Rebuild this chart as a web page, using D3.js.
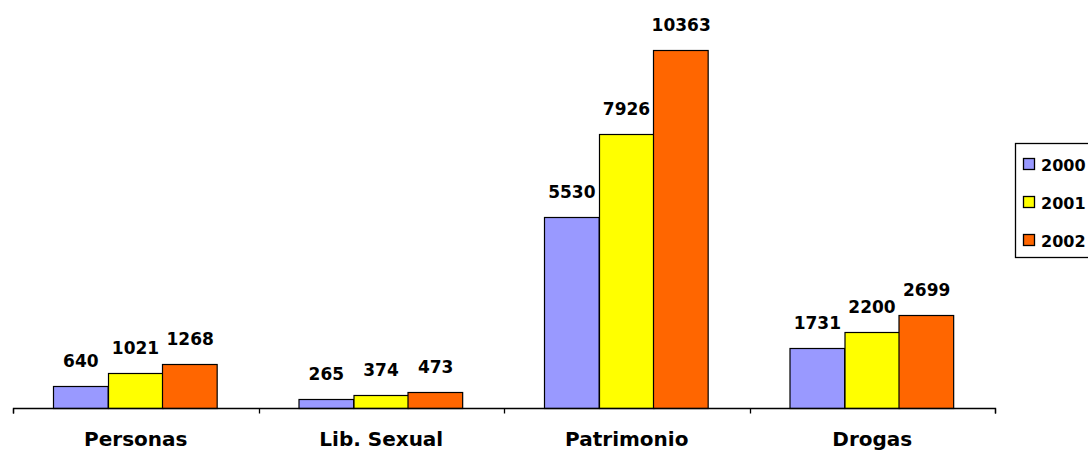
<!DOCTYPE html>
<html>
<head>
<meta charset="utf-8">
<script src="https://cdn.jsdelivr.net/npm/d3@7"></script>
<style>
  html, body { margin: 0; padding: 0; background: #fff; }
  svg { display: block; }
  text { font-family: "DejaVu Sans", Verdana, sans-serif; font-weight: bold; fill: #000; }
</style>
</head>
<body>
<svg id="chart" width="1088" height="450"></svg>
<script>
const categories = ["Personas", "Lib. Sexual", "Patrimonio", "Drogas"];
const series = ["2000", "2001", "2002"];
const values2000 = [640, 265, 5530, 1731];
const values2001 = [1021, 374, 7926, 2200];
const values2002 = [1268, 473, 10363, 2699];
const colors = ["#9999FF", "#FFFF00", "#FF6600"];

const seriesValues = [values2000, values2001, values2002];
const svg = d3.select("#chart");

const baseY = 408;
const x0 = d3.scaleBand().domain(categories).range([13, 995]).padding(0);
const bw = x0.bandwidth();
const x1 = d3.scaleBand().domain(series).range([40, 204]).padding(0);
const y = d3.scaleLinear().domain([0, d3.max(values2002)]).range([baseY, 50]);
const color = d3.scaleOrdinal().domain(series).range(colors);

// bars
const groups = svg.append("g").selectAll("g")
  .data(categories)
  .join("g")
  .attr("transform", d => `translate(${x0(d)},0)`);

groups.selectAll("rect")
  .data((c, i) => series.map((s, j) => ({ s, v: seriesValues[j][i] })))
  .join("rect")
  .attr("x", d => Math.round(x1(d.s)) + 0.5)
  .attr("y", d => Math.round(y(d.v)) + 0.5)
  .attr("width", x1.bandwidth())
  .attr("height", d => baseY - Math.round(y(d.v)))
  .attr("fill", d => color(d.s))
  .attr("stroke", "#000")
  .attr("stroke-width", 1.2);

groups.selectAll("text.val")
  .data((c, i) => series.map((s, j) => ({ s, v: seriesValues[j][i] })))
  .join("text")
  .attr("class", "val")
  .attr("x", d => x1(d.s) + x1.bandwidth() / 2 + 0.5)
  .attr("y", d => y(d.v) - 19)
  .attr("text-anchor", "middle")
  .attr("font-size", 17)
  .text(d => d.v);

// axis
const axis = d3.axisBottom(x0).tickSize(5).tickFormat("");
const axisG = svg.append("g")
  .attr("transform", `translate(0.5,${baseY + 0.5})`)
  .call(axis);
axisG.select(".domain").attr("d", `M13,5V0H995V5`).attr("stroke", "#000").attr("stroke-width", 1.3);
axisG.selectAll(".tick").remove();
const boundaries = categories.map(c => x0(c)).concat([x0.range()[1]]);
axisG.selectAll("line.b").data(boundaries).join("line")
  .attr("class", "b")
  .attr("x1", d => Math.round(d)).attr("x2", d => Math.round(d))
  .attr("y1", 0).attr("y2", 5)
  .attr("stroke", "#000").attr("stroke-width", 1.3);

svg.append("g").selectAll("text")
  .data(categories)
  .join("text")
  .attr("x", d => x0(d) + bw / 2)
  .attr("y", 446)
  .attr("text-anchor", "middle")
  .attr("font-size", 20)
  .text(d => d);

// legend
const lg = svg.append("g");
lg.append("rect")
  .attr("x", 1015.5).attr("y", 143.5)
  .attr("width", 90).attr("height", 114)
  .attr("fill", "#fff").attr("stroke", "#000").attr("stroke-width", 1.3);
const items = lg.selectAll("g.item").data(series).join("g")
  .attr("class", "item")
  .attr("transform", (d, i) => `translate(0,${164 + i * 38})`);
items.append("rect")
  .attr("x", 1023.5).attr("y", -5.5)
  .attr("width", 11).attr("height", 11)
  .attr("fill", d => color(d)).attr("stroke", "#000").attr("stroke-width", 1.3);
items.append("text")
  .attr("x", 1041).attr("y", 6.5)
  .attr("font-size", 16)
  .text(d => d);
</script>
</body>
</html>
